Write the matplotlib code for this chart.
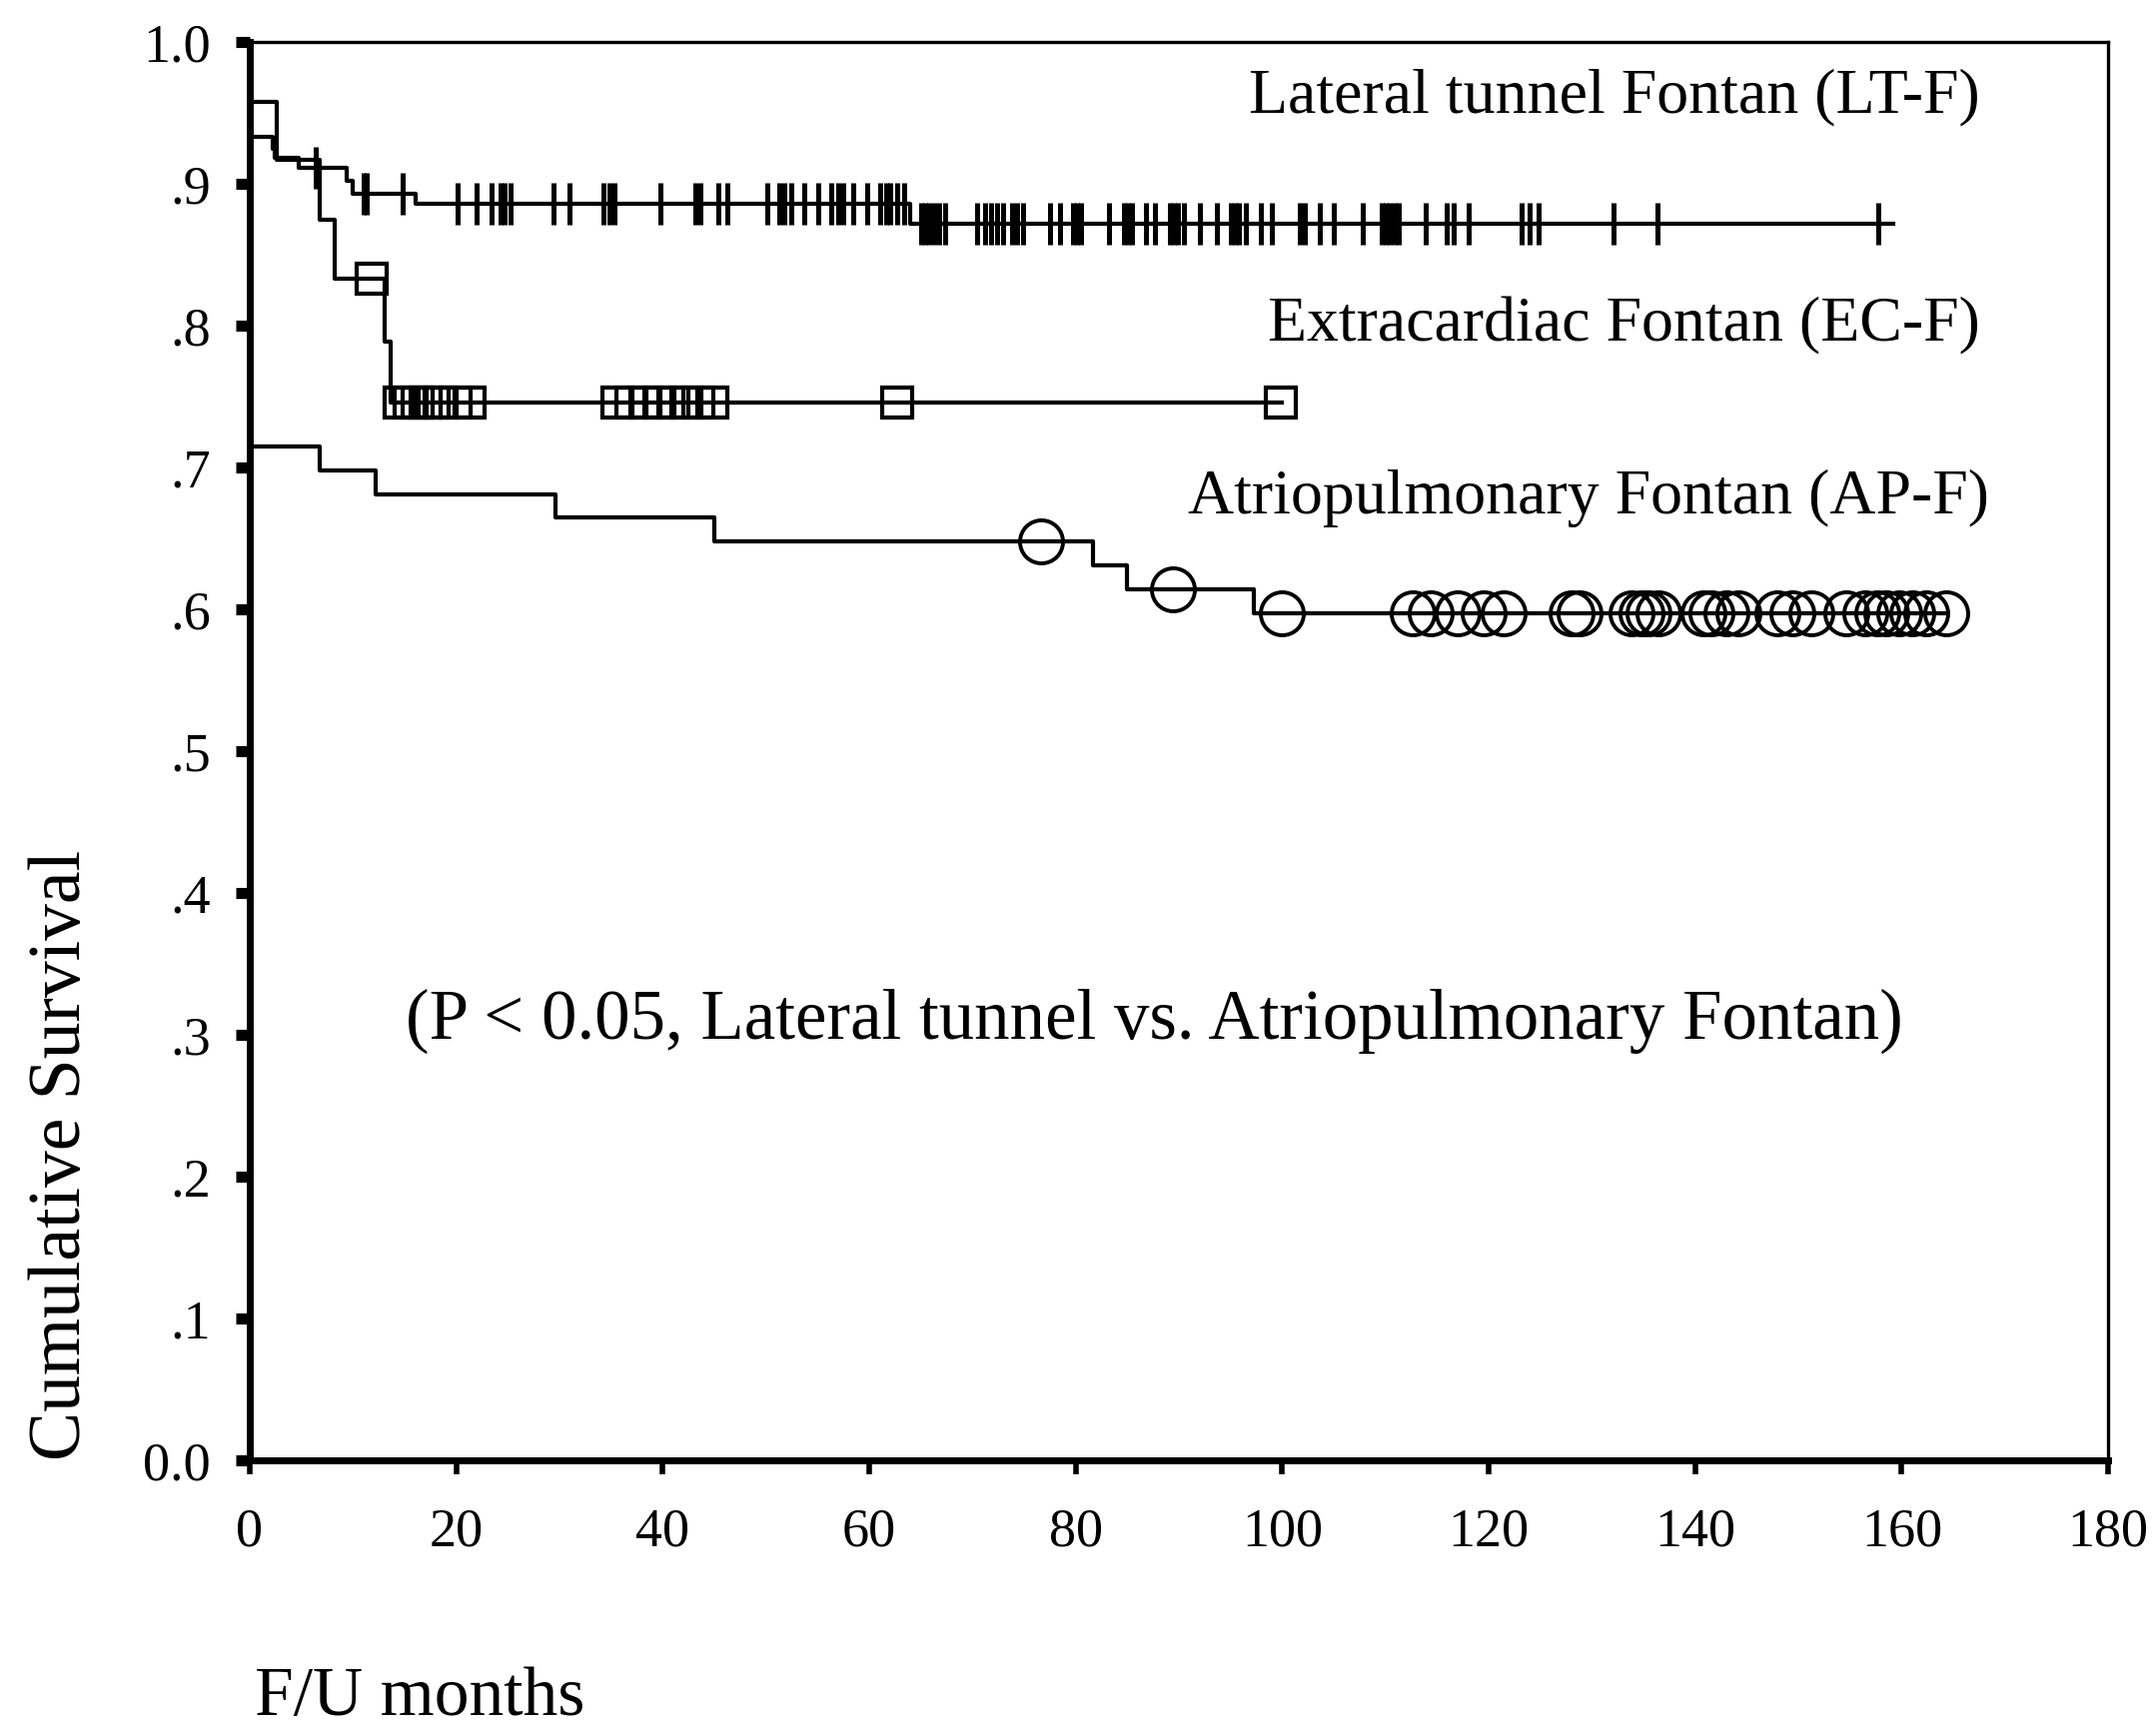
# Kaplan-Meier survival by Fontan type
import numpy as np
import matplotlib
matplotlib.use('Agg')
import matplotlib.pyplot as plt

plt.rcParams['font.family'] = ['Liberation Serif', 'DejaVu Serif']

# Lateral tunnel Fontan (LT-F)
lt_times = [0, 0, 2.2, 2.4, 4.7, 9.4, 10.0, 16.1, 64.0, 159.2]
lt_surv = [1.0, 0.933, 0.925, 0.918, 0.911, 0.902, 0.893, 0.886, 0.872, 0.872]
lt_censor = [6.4, 11.0, 11.3, 14.8, 20.1, 22.0, 23.4, 24.3, 24.7, 25.3, 29.4, 31.0,
             34.3, 34.8, 35.3, 39.8, 43.2, 43.6, 45.4, 46.3, 50.1, 51.3, 51.8, 52.5,
             53.7, 55.1, 56.3, 57.0, 57.5, 58.5, 59.8, 61.1, 61.6, 62.0, 62.7, 63.4,
             65.0, 65.4, 65.8, 66.3, 66.8, 67.4, 70.5, 71.2, 71.8, 72.4, 73.0, 73.8,
             74.3, 74.9, 77.5, 78.5, 79.7, 80.1, 80.5, 83.2, 84.7, 85.1, 85.5, 86.8,
             87.7, 89.1, 89.5, 89.9, 90.5, 92.0, 93.7, 95.0, 95.4, 95.8, 96.5, 97.9,
             99.0, 101.7, 102.2, 103.6, 105.0, 107.8, 109.6, 110.0, 110.4, 110.9,
             111.3, 113.9, 115.9, 116.6, 118.1, 123.2, 124.0, 124.8, 132.1, 136.4, 157.7]

# Extracardiac Fontan (EC-F)
ec_times = [0, 0, 2.6, 6.8, 8.2, 13.1, 13.6, 100.0]
ec_surv = [1.0, 0.958, 0.917, 0.875, 0.833, 0.789, 0.746, 0.746]
ec_censor = [11.8, 14.5, 15.5, 16.3, 17.0, 17.8, 18.6, 19.9, 21.3, 35.6, 37.0, 38.3,
             39.7, 41.0, 42.3, 43.5, 44.8, 62.7, 99.9]

# Atriopulmonary Fontan (AP-F)
ap_times = [0, 0, 6.8, 12.2, 29.6, 45.0, 81.7, 85.0, 97.3, 164.3]
ap_surv = [1.0, 0.715, 0.698, 0.681, 0.665, 0.648, 0.631, 0.614, 0.597, 0.597]
ap_censor = [76.6, 89.4, 100.0, 112.6, 114.4, 117.0, 119.5, 121.5, 128.0, 128.8,
             133.8, 134.8, 135.5, 136.5, 140.8, 141.6, 143.0, 144.2, 148.0, 149.4,
             151.3, 154.6, 156.5, 157.6, 158.5, 159.8, 161.0, 162.4, 164.3]

xticks = [0, 20, 40, 60, 80, 100, 120, 140, 160, 180]
yticks = [0.0, 0.1, 0.2, 0.3, 0.4, 0.5, 0.6, 0.7, 0.8, 0.9, 1.0]
ytick_labels = ['0.0', '.1', '.2', '.3', '.4', '.5', '.6', '.7', '.8', '.9', '1.0']


def level_at(times, surv, t):
    # value of the step curve at time t
    idx = np.searchsorted(times, t, side='right') - 1
    return np.array(surv)[idx]


fig = plt.figure(figsize=(21.57, 17.38), dpi=100)
ax = fig.add_axes([0.1159, 0.1588, 0.8623, 0.817])

lw = 3.0
ax.step(lt_times, lt_surv, where='post', color='black', lw=lw)
ax.step(ec_times, ec_surv, where='post', color='black', lw=lw)
ax.step(ap_times, ap_surv, where='post', color='black', lw=lw)

ax.plot(lt_censor, level_at(lt_times, lt_surv, lt_censor), ls='none', marker='|',
        ms=30, mew=3.6, color='black')
ax.plot(ec_censor, level_at(ec_times, ec_surv, ec_censor), ls='none', marker='s',
        ms=21, mew=3.0, fillstyle='none', color='black')
ax.plot(ap_censor, level_at(ap_times, ap_surv, ap_censor), ls='none', marker='o',
        ms=31, mew=2.8, fillstyle='none', color='black')

ax.text(167.6, 0.961, 'Lateral tunnel Fontan (LT-F)', fontsize=46, ha='right', va='center')
ax.text(167.6, 0.800, 'Extracardiac Fontan (EC-F)', fontsize=46, ha='right', va='center')
ax.text(168.5, 0.678, 'Atriopulmonary Fontan (AP-F)', fontsize=46, ha='right', va='center')
ax.text(15.1, 0.310, '(P < 0.05, Lateral tunnel vs. Atriopulmonary Fontan)', fontsize=51,
        ha='left', va='center')

ax.set_xlim(0, 180)
ax.set_ylim(0, 1.0)
ax.set_xticks(xticks)
ax.set_yticks(yticks)
ax.set_yticklabels(ytick_labels)
ax.tick_params(axis='x', direction='out', length=10, width=4, labelsize=39, pad=24)
ax.tick_params(axis='y', direction='out', length=10, width=8, labelsize=39, pad=18)

ax.spines['left'].set_linewidth(5)
ax.spines['bottom'].set_linewidth(5)
ax.spines['top'].set_linewidth(2.4)
ax.spines['right'].set_linewidth(2.4)

fig.text(0.0287, 0.159, 'Cumulative Survival', fontsize=53, rotation=90,
         ha='center', va='bottom')
fig.text(0.118, 0.012, 'F/U months', fontsize=50, ha='left', va='baseline')

fig.savefig('out.png', dpi=100)
